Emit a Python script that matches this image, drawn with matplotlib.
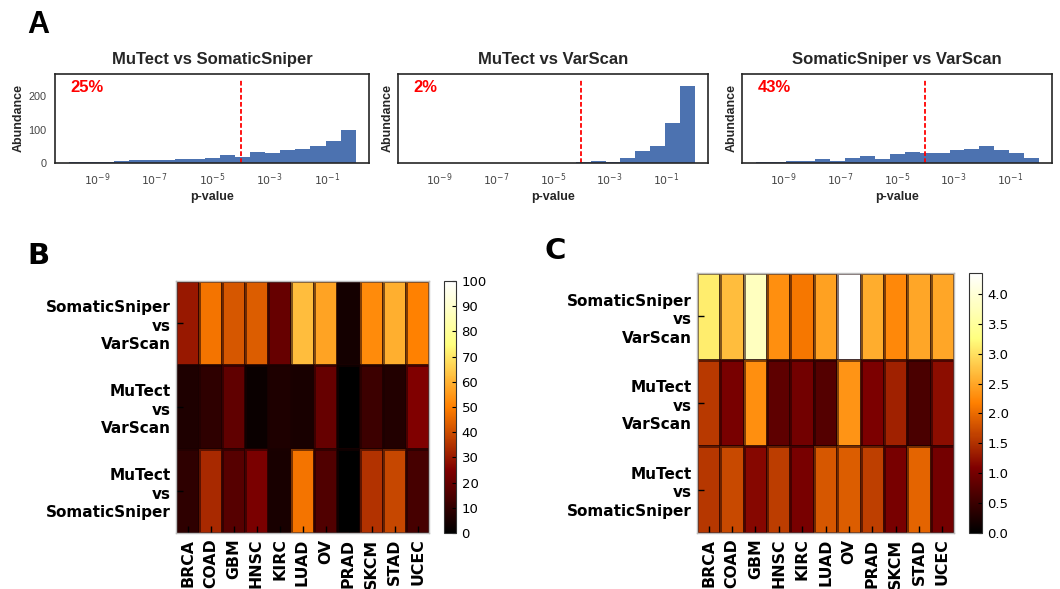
import numpy as np
import matplotlib
matplotlib.use("Agg")
import matplotlib.pyplot as plt
from matplotlib.ticker import FixedLocator, NullLocator

# ---------------- data ----------------
log_edges = np.linspace(-10.5, 0, 21)  # log10(p) bin edges
hist_titles = ["MuTect vs SomaticSniper", "MuTect vs VarScan", "SomaticSniper vs VarScan"]
hist_percent = ["25%", "2%", "43%"]
counts_mt_ss = [0, 2, 2, 2, 5, 8, 8, 8, 11, 11, 14, 24, 18, 32, 29, 38, 41, 50, 65, 98]
counts_mt_vs = [0, 1, 1, 1, 1, 1, 1, 1, 1, 1, 1, 1, 4, 7, 3, 14, 37, 52, 119, 232]
counts_ss_vs = [0, 4, 4, 7, 7, 11, 7, 16, 22, 13, 28, 34, 31, 31, 40, 43, 52, 40, 31, 16]
threshold = 1e-4

cancers = ["BRCA", "COAD", "GBM", "HNSC", "KIRC", "LUAD", "OV", "PRAD", "SKCM", "STAD", "UCEC"]
row_labels = ["SomaticSniper\nvs\nVarScan", "MuTect\nvs\nVarScan", "MuTect\nvs\nSomaticSniper"]

B_ss_vs = [30, 48, 42, 43, 20, 62, 57, 4, 52, 59, 50]
B_mt_vs = [6, 9, 19, 2, 6, 5, 20, 0, 12, 7, 25]
B_mt_ss = [9, 33, 17, 24, 5, 48, 16, 0, 35, 39, 14]

C_ss_vs = [3.1, 2.7, 3.8, 2.3, 2.1, 2.45, 4.35, 2.55, 2.25, 2.5, 2.5]
C_mt_vs = [1.57, 1.02, 2.3, 0.81, 0.98, 0.72, 2.35, 1.07, 1.36, 0.64, 1.2]
C_mt_ss = [1.55, 1.7, 1.15, 1.6, 1.02, 1.83, 1.87, 1.62, 1.02, 1.94, 1.0]

# ---------------- figure ----------------
W, H = 1060, 589
fig = plt.figure(figsize=(W / 100, H / 100), dpi=100)

def rect(l, t, r, b):
    return [l / W, 1 - b / H, (r - l) / W, (b - t) / H]

dark = "#262626"
hist_rects = [rect(55, 74, 369, 163), rect(398, 74, 708, 163), rect(742, 74, 1052, 163)]
all_counts = [counts_mt_ss, counts_mt_vs, counts_ss_vs]

edges = 10.0 ** log_edges
ax0 = None
for i, (r, cnt) in enumerate(zip(hist_rects, all_counts)):
    ax = fig.add_axes(r, sharey=ax0) if ax0 is not None else fig.add_axes(r)
    if ax0 is None:
        ax0 = ax
    ax.set_xscale("log")
    ax.bar(edges[:-1], cnt, width=np.diff(edges), align="edge",
           color="#4C72B0", edgecolor="none", linewidth=0)
    ax.vlines(threshold, 0, 250, colors="red", linestyles=(0, (2.6, 1.3)), linewidth=1.3)
    ax.set_xlim(10 ** -10.46, 10 ** 0.46)
    ax.set_ylim(0, 267)
    ax.xaxis.set_major_locator(FixedLocator([1e-9, 1e-7, 1e-5, 1e-3, 1e-1]))
    ax.xaxis.set_minor_locator(NullLocator())
    ax.set_yticks([0, 100, 200])
    ax.tick_params(length=0, labelsize=7.8, colors="#444444", pad=6)
    for lab in ax.get_yticklabels():
        lab.set_family("Liberation Sans")
    if i > 0:
        ax.tick_params(axis="y", labelleft=False)
    for s in ax.spines.values():
        s.set_color(dark)
        s.set_linewidth(1.2)
    ax.set_title(hist_titles[i], fontsize=12, fontweight="bold", color=dark,
                 family="Liberation Sans", pad=7)
    ax.set_xlabel("p-value", fontsize=9, fontweight="bold", color=dark,
                  family="Liberation Sans", labelpad=2)
    ax.set_ylabel("Abundance", fontsize=9, fontweight="bold", color=dark,
                  family="Liberation Sans", labelpad=3)
    ax.text(0.05, 0.93, hist_percent[i], transform=ax.transAxes, ha="left", va="top",
            color="red", fontsize=12, fontweight="bold", family="Liberation Sans")

fig.text(27 / W, 1 - 33 / H, "A", fontsize=22, fontweight="bold",
         family="Liberation Sans", ha="left", va="baseline")

# ---------------- heatmaps ----------------
def heatmap(ax_rect, cb_rect, data, vmax, cticks, cticklabels):
    ax = fig.add_axes(ax_rect)
    cax = fig.add_axes(cb_rect)
    arr = np.array(data, dtype=float)
    m = ax.pcolormesh(np.arange(arr.shape[1] + 1), np.arange(arr.shape[0] + 1), arr,
                      cmap="afmhot", vmin=0, vmax=vmax,
                      edgecolors=(0.1, 0.0, 0.0, 0.55), linewidth=0.9)
    ax.set_xlim(0, arr.shape[1])
    ax.set_ylim(arr.shape[0], 0)
    ax.set_xticks(np.arange(arr.shape[1]) + 0.5)
    ax.set_xticklabels(cancers, rotation=90, fontsize=11.3, fontweight="bold",
                       family="DejaVu Sans")
    ax.set_yticks(np.arange(arr.shape[0]) + 0.5)
    ax.set_yticklabels(row_labels, fontsize=11, fontweight="bold",
                       family="DejaVu Sans", linespacing=1.3, ha="right")
    ax.tick_params(direction="in", length=5, width=1, color="black", pad=4,
                   top=False, right=False)
    for s in ax.spines.values():
        s.set_color("#bbbbbb")
        s.set_linewidth(1.0)
    cb = fig.colorbar(m, cax=cax)
    cb.set_ticks(cticks)
    cb.set_ticklabels(cticklabels)
    cax.tick_params(direction="in", length=3, width=0.8, labelsize=9.5, pad=4)
    cb.outline.set_linewidth(0.8)
    cb.outline.set_edgecolor("#333333")
    return ax

B_data = [B_ss_vs, B_mt_vs, B_mt_ss]
C_data = [C_ss_vs, C_mt_vs, C_mt_ss]

heatmap(rect(176, 281, 429, 533), rect(444, 281, 456, 533), B_data, 100,
        list(range(0, 101, 10)), [str(v) for v in range(0, 101, 10)])
cmax = max(max(r) for r in C_data)
cvals = [0.0, 0.5, 1.0, 1.5, 2.0, 2.5, 3.0, 3.5, 4.0]
heatmap(rect(697, 273, 954, 533), rect(969, 273, 982, 533), C_data, cmax,
        cvals, ["%.1f" % v for v in cvals])

fig.text(27 / W, 1 - 264 / H, "B", fontsize=21, fontweight="bold",
         family="DejaVu Sans", ha="left", va="baseline")
fig.text(545 / W, 1 - 259 / H, "C", fontsize=21, fontweight="bold",
         family="DejaVu Sans", ha="left", va="baseline")

fig.savefig("out.png", dpi=100)
